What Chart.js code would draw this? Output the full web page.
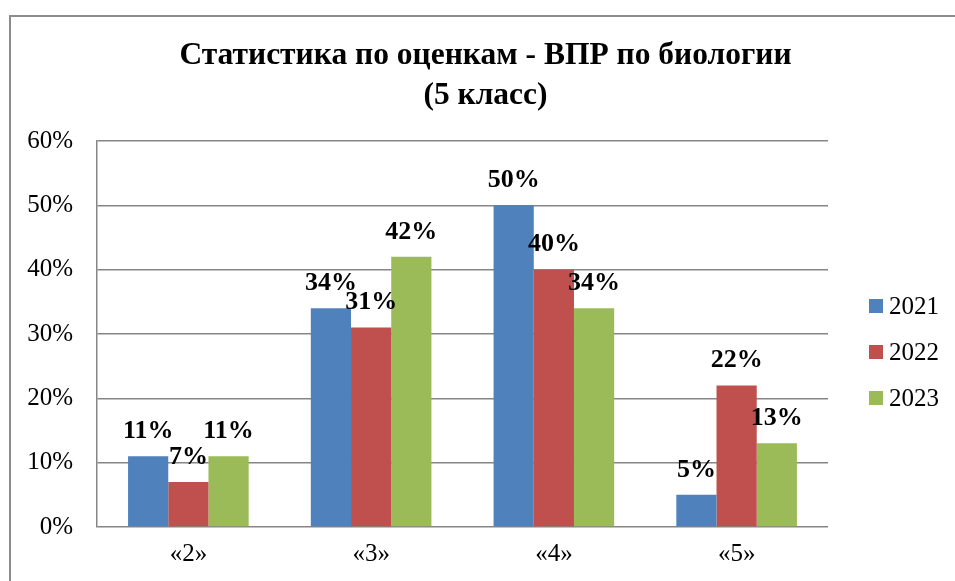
<!DOCTYPE html>
<html>
<head>
<meta charset="utf-8">
<script src="https://cdn.jsdelivr.net/npm/chart.js@4"></script>
<style>
  html, body { margin: 0; padding: 0; background: #fff; }
  #wrap { position: relative; width: 955px; height: 581px; overflow: hidden; }
  #frame {
    position: absolute; left: 9px; top: 15px; width: 1000px; height: 1000px;
    border-left: 2px solid #8c8c8c; border-top: 2px solid #8c8c8c;
  }
  canvas { position: absolute; left: 0; top: 0; }
</style>
</head>
<body>
<div id="wrap">
  <div id="frame"></div>
  <canvas id="chart" width="955" height="581"></canvas>
</div>
<script>
// --- Data ---
const categories = ["«2»", "«3»", "«4»", "«5»"];
const seriesNames = ["2021", "2022", "2023"];
const values2021 = [11, 34, 50, 5];
const values2022 = [7, 31, 40, 22];
const values2023 = [11, 42, 34, 13];
const yTicks = [0, 10, 20, 30, 40, 50, 60];
const titleLines = ["Статистика по оценкам - ВПР по биологии", "(5 класс)"];

const colors = ["#4F81BD", "#C0504D", "#9BBB59"];
const SERIF = "'Liberation Serif', 'Times New Roman', serif";

// two-line title, centred on the whole frame (not only the plot)
const frameTitle = {
  id: "frameTitle",
  afterDraw(chart) {
    const ctx = chart.ctx;
    ctx.save();
    ctx.font = "bold 31.5px " + SERIF;
    ctx.fillStyle = "#000";
    ctx.textAlign = "center";
    ctx.textBaseline = "middle";
    titleLines.forEach((line, i) => {
      ctx.fillText(line, chart.width / 2 + 8, 56 + i * 40);
    });
    ctx.restore();
  },
};

// labels drawn above every bar
const barLabels = {
  id: "barLabels",
  afterDatasetsDraw(chart) {
    const ctx = chart.ctx;
    ctx.save();
    ctx.font = "bold 26px " + SERIF;
    ctx.fillStyle = "#000";
    ctx.textAlign = "center";
    ctx.textBaseline = "middle";
    chart.data.datasets.forEach((ds, i) => {
      chart.getDatasetMeta(i).data.forEach((bar, j) => {
        ctx.fillText(ds.data[j] + "%", bar.x, bar.y - 25);
      });
    });
    ctx.restore();
  },
};

// simple legend on the right, like the original
const sideLegend = {
  id: "sideLegend",
  afterDraw(chart) {
    const ctx = chart.ctx;
    const area = chart.chartArea;
    const x = area.right + 41;
    const step = 46;
    const n = chart.data.datasets.length;
    const y0 = (area.top + area.bottom) / 2 + 18 - ((n - 1) * step) / 2;
    ctx.save();
    ctx.font = "25px " + SERIF;
    ctx.textBaseline = "middle";
    ctx.textAlign = "left";
    chart.data.datasets.forEach((ds, i) => {
      const y = y0 + i * step;
      ctx.fillStyle = ds.backgroundColor;
      ctx.fillRect(x, y - 7, 14, 14);
      ctx.fillStyle = "#000";
      ctx.fillText(ds.label, x + 20, y + 1);
    });
    ctx.restore();
  },
};

const seriesValues = [values2021, values2022, values2023];

new Chart(document.getElementById("chart"), {
  type: "bar",
  data: {
    labels: categories,
    datasets: seriesNames.map((name, i) => ({
      label: name,
      data: seriesValues[i],
      backgroundColor: colors[i],
      borderWidth: 0,
      categoryPercentage: 0.66,
      barPercentage: 1.0,
    })),
  },
  options: {
    responsive: false,
    animation: false,
    layout: { padding: { left: 0, right: 127, top: 141, bottom: 0 } },
    plugins: {
      legend: { display: false },
      tooltip: { enabled: false },
      title: { display: false },
    },
    scales: {
      x: {
        grid: { display: false, drawTicks: false },
        border: { display: false },
        ticks: { color: "#000", font: { family: SERIF, size: 25 }, padding: 12 },
        afterFit(s) { s.height = 54; },
      },
      y: {
        min: 0,
        max: 60,
        afterBuildTicks(s) { s.ticks = yTicks.map((v) => ({ value: v })); },
        grid: { color: "#868686", lineWidth: 1.5, drawTicks: false },
        border: { color: "#868686", width: 1.5 },
        ticks: {
          color: "#000",
          font: { family: SERIF, size: 25 },
          padding: 24,
          callback: (v) => v + "%",
        },
        afterFit(s) { s.width = 97; },
      },
    },
  },
  plugins: [barLabels, sideLegend, frameTitle],
});
</script>
</body>
</html>
